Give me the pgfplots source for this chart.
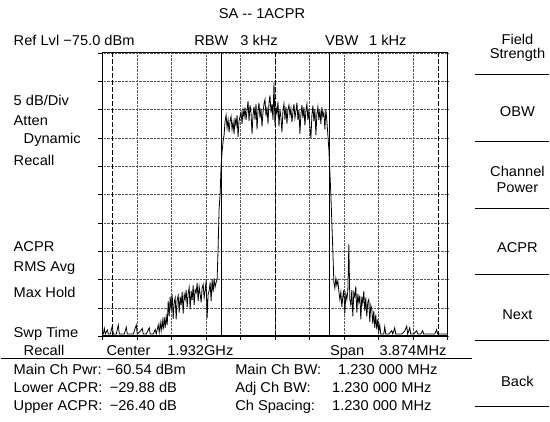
\documentclass[border=0pt]{standalone}
\usepackage{fontspec}
\setmainfont{Liberation Sans}[FakeStretch=1.03]
\usepackage{pgfplots}
\pgfplotsset{compat=1.18}
\pgfplotstableread[row sep=\\]{
x y\\
0 -124.6\\ 1 -124.6\\ 2 -123.6\\ 3 -124.6\\ 4 -124.2\\ 5 -123.9\\ 6 -124.6\\ 8 -124.6\\ 10 -123.2\\ 11 -124.6\\
14 -124.6\\ 16 -123.0\\ 17 -124.6\\ 20 -124.6\\ 22 -124.6\\ 24 -123.4\\ 25 -124.6\\ 28 -124.6\\ 31 -124.6\\ 34 -123.0\\
35 -124.6\\ 38 -124.1\\ 40 -123.6\\ 41 -124.6\\ 44 -124.6\\ 47 -123.5\\ 48 -124.6\\ 51 -124.6\\ 53 -123.8\\ 54 -124.6\\
56 -123.0\\ 57 -124.3\\ 58 -122.6\\ 59 -124.0\\ 60 -122.2\\ 61 -123.8\\ 62 -121.6\\ 63 -123.5\\ 64 -121.5\\ 65 -123.0\\
66 -118.8\\ 67 -121.5\\ 68 -118.0\\ 69 -120.5\\ 70 -117.6\\ 71 -121.9\\ 72 -119.0\\ 73 -118.2\\ 74 -122.0\\ 75 -118.5\\
76 -117.8\\ 77 -120.8\\ 78 -118.0\\ 79 -119.5\\ 80 -117.2\\ 81 -121.0\\ 82 -117.6\\ 83 -118.5\\ 84 -116.8\\ 85 -119.8\\
86 -117.5\\ 87 -116.4\\ 88 -120.2\\ 89 -117.0\\ 90 -118.6\\ 91 -116.0\\ 92 -119.5\\ 93 -116.8\\ 94 -117.3\\ 95 -115.6\\
96 -118.8\\ 97 -116.2\\ 98 -117.5\\ 99 -119.0\\ 100 -116.5\\ 101 -115.8\\ 102 -118.2\\ 103 -116.9\\ 104 -115.2\\ 105 -121.8\\
106 -117.6\\ 107 -117.0\\ 108 -115.5\\ 109 -118.8\\ 110 -115.0\\ 111 -117.2\\ 112 -114.8\\ 113 -116.3\\ 114 -115.5\\ 115 -115.0\\
116 -109.5\\ 117 -102.6\\ 118 -100.0\\ 119 -95.0\\ 120 -92.4\\ 121 -90.6\\ 122 -89.5\\ 123 -87.0\\
124 -86.0\\ 125 -88.2\\ 126 -86.8\\ 127 -89.0\\ 128 -87.0\\ 129 -86.2\\ 130 -88.5\\ 131 -87.2\\ 132 -89.3\\ 133 -86.5\\
134 -87.8\\ 135 -86.0\\ 136 -89.8\\ 137 -87.0\\ 138 -86.2\\ 139 -85.5\\ 140 -87.5\\ 141 -85.0\\ 142 -86.3\\ 143 -84.6\\
144 -86.8\\ 145 -85.2\\ 146 -83.5\\ 147 -87.0\\ 148 -84.2\\ 149 -85.6\\ 150 -89.3\\ 151 -86.0\\ 152 -84.5\\ 153 -86.8\\
154 -84.0\\ 155 -88.5\\ 156 -85.2\\ 157 -83.8\\ 158 -86.5\\ 159 -84.8\\ 160 -88.0\\ 161 -85.5\\ 162 -84.0\\ 163 -83.2\\
164 -86.2\\ 165 -84.5\\ 166 -87.5\\ 167 -83.8\\ 168 -82.5\\ 169 -85.6\\ 170 -84.0\\ 171 -86.8\\ 172 -80.2\\ 173 -87.8\\
174 -84.5\\ 175 -85.8\\ 176 -83.6\\ 177 -88.0\\ 178 -85.0\\ 179 -86.4\\ 180 -89.0\\ 181 -85.2\\ 182 -84.0\\ 183 -86.8\\
184 -84.5\\ 185 -87.5\\ 186 -85.0\\ 187 -84.2\\ 188 -86.0\\ 189 -84.8\\ 190 -87.2\\ 191 -85.5\\ 192 -84.0\\ 193 -86.5\\
194 -85.2\\ 195 -83.8\\ 196 -86.8\\ 197 -85.0\\ 198 -89.3\\ 199 -85.8\\ 200 -84.2\\ 201 -86.5\\ 202 -84.6\\ 203 -87.8\\
204 -85.2\\ 205 -84.0\\ 206 -86.8\\ 207 -85.0\\ 208 -88.2\\ 209 -90.0\\ 210 -86.0\\ 211 -84.3\\ 212 -87.0\\ 213 -85.0\\
214 -89.5\\ 215 -85.8\\ 216 -84.5\\ 217 -86.8\\ 218 -85.0\\ 219 -87.5\\ 220 -84.6\\ 221 -86.2\\ 222 -85.5\\ 223 -88.5\\
224 -85.0\\ 225 -87.0\\ 226 -89.5\\ 227 -92.0\\ 228 -96.0\\ 229 -100.0\\ 230 -105.0\\ 231 -110.0\\ 232 -115.5\\ 233 -116.5\\
234 -114.8\\ 235 -116.0\\ 236 -115.2\\ 237 -117.0\\ 238 -118.5\\ 239 -117.2\\ 240 -119.8\\ 241 -118.0\\ 242 -116.8\\ 243 -121.0\\
244 -117.5\\ 245 -118.5\\ 246 -117.0\\ 247 -108.8\\ 248 -118.5\\ 249 -119.5\\ 250 -116.8\\ 251 -121.5\\ 252 -117.3\\ 253 -118.0\\
254 -116.2\\ 255 -120.8\\ 256 -117.5\\ 257 -119.0\\ 258 -117.8\\ 259 -122.0\\ 260 -118.0\\ 261 -119.2\\ 262 -117.0\\ 263 -120.5\\
264 -118.2\\ 265 -121.5\\ 266 -119.0\\ 267 -118.5\\ 268 -122.5\\ 269 -119.5\\ 270 -120.2\\ 271 -122.8\\ 272 -120.5\\ 273 -123.5\\
274 -121.2\\ 275 -123.8\\ 276 -122.0\\ 277 -124.2\\ 278 -123.0\\ 279 -124.6\\ 280 -124.6\\ 282 -124.6\\ 283 -123.3\\ 284 -124.6\\
287 -124.6\\ 290 -124.0\\ 291 -124.6\\ 293 -123.5\\ 294 -124.6\\ 297 -124.6\\ 300 -124.6\\ 303 -124.1\\ 305 -123.2\\ 306 -124.6\\
308 -123.5\\ 309 -124.6\\ 312 -124.6\\ 315 -124.0\\ 316 -124.6\\ 319 -124.6\\ 321 -124.0\\ 322 -124.6\\ 326 -124.6\\ 330 -124.6\\
333 -124.6\\ 335 -123.8\\ 336 -124.6\\ 340 -124.6\\ 343 -124.6\\ 346 -124.6\\
}\trace
\begin{document}
\begin{tikzpicture}[x=1bp,y=-1bp,font=\fontsize{14.3}{16}\selectfont,
  L/.style={anchor=base west, inner sep=0},
  R/.style={anchor=base east, inner sep=0},
  C/.style={anchor=base, inner sep=0}]
\path (0,0) rectangle (550,422);
\begin{axis}[at={(102bp,-337bp)}, anchor=south west,
  width=346bp, height=284bp, scale only axis,
  xmin=0, xmax=346, ymin=-125, ymax=-75,
  xtick={0,34.6,69.2,103.8,138.4,173,207.6,242.2,276.8,311.4,346},
  ytick={-125,-120,-115,-110,-105,-100,-95,-90,-85,-80,-75},
  xticklabels={}, yticklabels={},
  xtick pos=bottom, ytick pos=left,
  tick align=outside, major tick length=4bp,
  tick style={black, line width=0.6pt},
  grid=major, grid style={black!65, densely dotted, line width=0.5pt},
  axis line style={black, line width=0.8pt},
  clip=true]
\addplot[black, line width=0.7pt, dash pattern=on 5bp off 2bp] coordinates {(10.5,-125) (10.5,-75)};
\addplot[black, line width=0.7pt, dash pattern=on 5bp off 2bp] coordinates {(173,-125) (173,-75)};
\addplot[black, line width=0.7pt, dash pattern=on 5bp off 2bp] coordinates {(337,-125) (337,-75)};
\addplot[black, line width=0.7pt] coordinates {(119.5,-125) (119.5,-75)};
\addplot[black, line width=0.7pt] coordinates {(227.5,-125) (227.5,-75)};
\addplot[black, line width=0.8pt] table[x=x,y=y] {\trace};
\draw[black, line width=1.8pt] (rel axis cs:0,0) -- (rel axis cs:1,0);
\end{axis}
% header
\node[C] at (262,19) {SA {-}{-} 1ACPR};
\node[L] at (13,45.7) {Ref Lvl −75.0 dBm};
\node[L] at (194,45.7) {RBW};
\node[R] at (278,45.7) {3 kHz};
\node[L] at (325,45.7) {VBW};
\node[R] at (407,45.7) {1 kHz};
% left labels
\node[L] at (13,106) {5 dB/Div};
\node[L] at (13,126) {Atten};
\node[L] at (23,144) {Dynamic};
\node[L] at (13,166) {Recall};
\node[L] at (13,252) {ACPR};
\node[L] at (13,272) {RMS Avg};
\node[L] at (13,298) {Max Hold};
\node[L] at (13,338) {Swp Time};
\node[L] at (23,356) {Recall};
% bottom of plot
\node[L] at (106,356) {Center};
\node[L] at (167,356) {1.932GHz};
\node[L] at (330,356) {Span};
\node[R] at (447,356) {3.874MHz};
\draw[black, line width=1.1pt] (0,359.5) -- (472,359.5);
% readouts
\node[L] at (13,375) {Main Ch Pwr:};
\node[R] at (186,375) {−60.54 dBm};
\node[L] at (13,393) {Lower ACPR:};
\node[R] at (177,393) {−29.88 dB};
\node[L] at (13,411.5) {Upper ACPR:};
\node[R] at (177,411.5) {−26.40 dB};
\node[L] at (235,375) {Main Ch BW:};
\node[L] at (235,393) {Adj Ch BW:};
\node[L] at (235,411.5) {Ch Spacing:};
\node[R] at (438,375) {1.230 000 MHz};
\node[R] at (432,393) {1.230 000 MHz};
\node[R] at (432,411.5) {1.230 000 MHz};
% soft keys
\node[C] at (518,45) {Field};
\node[C] at (518,58.5) {Strength};
\node[C] at (518,117) {OBW};
\node[C] at (518,177) {Channel};
\node[C] at (518,193) {Power};
\node[C] at (518,253) {ACPR};
\node[C] at (518,320) {Next};
\node[C] at (518,387) {Back};
\foreach \yy in {75,142,209,275,341,407} {\draw[black, line width=1.2pt] (475,\yy) -- (550,\yy);}
\end{tikzpicture}
\end{document}
